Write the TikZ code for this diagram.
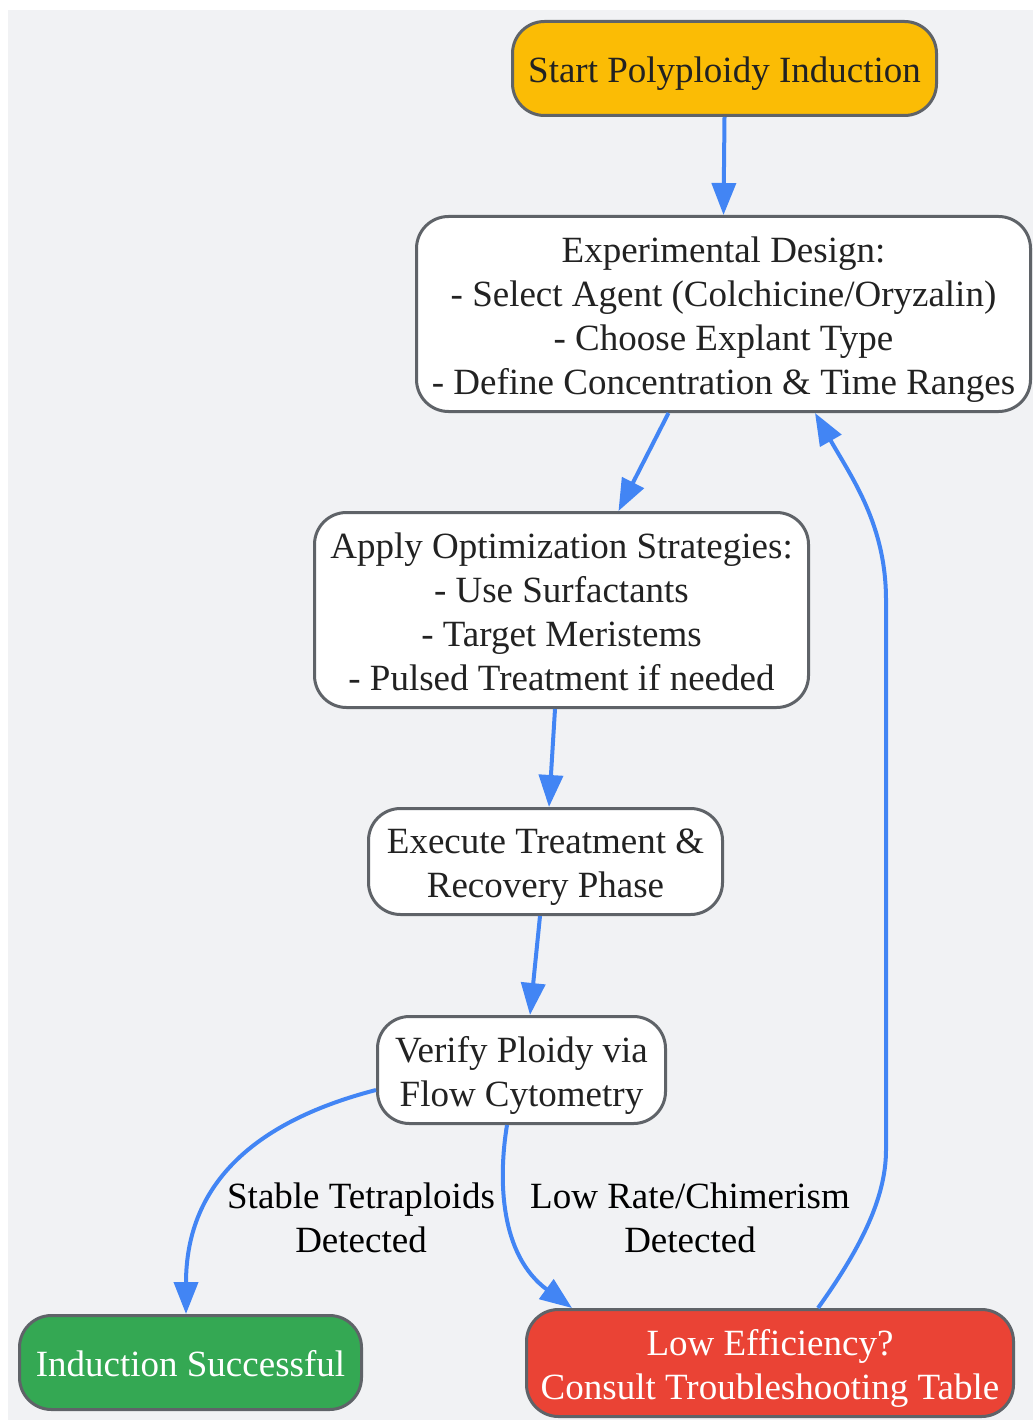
\documentclass[tikz,border=0pt]{standalone}
\usepackage{fontspec}
\setmainfont{Liberation Serif}
\usetikzlibrary{arrows.meta}
\definecolor{bgc}{HTML}{F1F2F4}
\definecolor{strokec}{HTML}{5F6368}
\definecolor{edgec}{HTML}{4285F4}
\definecolor{txtc}{HTML}{222222}
\definecolor{yel}{HTML}{FBBC05}
\definecolor{grn}{HTML}{34A853}
\definecolor{redc}{HTML}{EA4335}
\newcommand{\TS}{\rule{0pt}{40pt}}
\newcommand{\BS}{\rule[-12pt]{0pt}{0pt}}
\tikzset{
  box/.style={draw=strokec, line width=3pt, rounded corners=32pt, fill=white,
    text=txtc, align=center, inner sep=0pt, font=\fontsize{37}{44}\selectfont},
  edge/.style={draw=edgec, line width=4pt, -{Triangle[length=32pt,width=24pt]}},
  elabel/.style={text=black, align=center, inner sep=0pt, font=\fontsize{37}{44}\selectfont}
}
\begin{document}
\begin{tikzpicture}[x=1pt,y=-1pt]
\useasboundingbox (0,0) rectangle (1033,1420);
\fill[bgc] (8,10) rectangle (1033,1420);

\node[box, fill=yel, minimum width=424pt, minimum height=94pt] (start) at (724.5,68.5) {\TS Start Polyploidy Induction\BS};
\node[box, minimum width=614pt, minimum height=195pt] (exp) at (723.5,314)
  {\TS Experimental Design:\\- Select Agent (Colchicine/Oryzalin)\\- Choose Explant Type\\- Define Concentration \& Time Ranges\BS};
\node[box, minimum width=494pt, minimum height=195pt] (apply) at (561.5,610)
  {\TS Apply Optimization Strategies:\\- Use Surfactants\\- Target Meristems\\- Pulsed Treatment if needed\BS};
\node[box, minimum width=354pt, minimum height=106pt] (exec) at (545.5,861.5)
  {\TS Execute Treatment \&\\Recovery Phase\BS};
\node[box, minimum width=288pt, minimum height=107pt] (verify) at (521.5,1070)
  {\TS Verify Ploidy via\\Flow Cytometry\BS};
\node[box, fill=grn, text=white, minimum width=342pt, minimum height=94pt] (succ) at (190.5,1362.5)
  {\TS Induction Successful\BS};
\node[box, fill=redc, text=white, minimum width=487pt, minimum height=107pt] (low) at (770,1363)
  {\TS Low Efficiency?\\Consult Troubleshooting Table\BS};

\draw[edge] (start.south) -- (exp.north);
\draw[edge] ([xshift=-55pt]exp.south) -- ([xshift=57pt]apply.north);
\draw[edge] ([xshift=-6.5pt]apply.south) -- ([xshift=3.5pt]exec.north);
\draw[edge] ([xshift=-5.5pt]exec.south) -- ([xshift=8.5pt]verify.north);
\draw[edge] ([yshift=-20pt]verify.west) .. controls (260,1120) and (186,1180) .. ([xshift=-4.5pt]succ.north);
\draw[edge] ([xshift=-14.5pt]verify.south) .. controls (498,1180) and (500,1255) .. ([xshift=-198pt]low.north);
\draw[edge] ([xshift=48pt]low.north) .. controls (858,1252) and (886,1200) .. (886,1150)
  -- (886,600) .. controls (886,525) and (852,478) .. ([xshift=91.5pt]exp.south);

\node[elabel] (l1) at (361,1218) {Stable Tetraploids\\Detected};
\node[elabel] (l2) at (690,1218) {Low Rate/Chimerism\\Detected};
\end{tikzpicture}
\end{document}
